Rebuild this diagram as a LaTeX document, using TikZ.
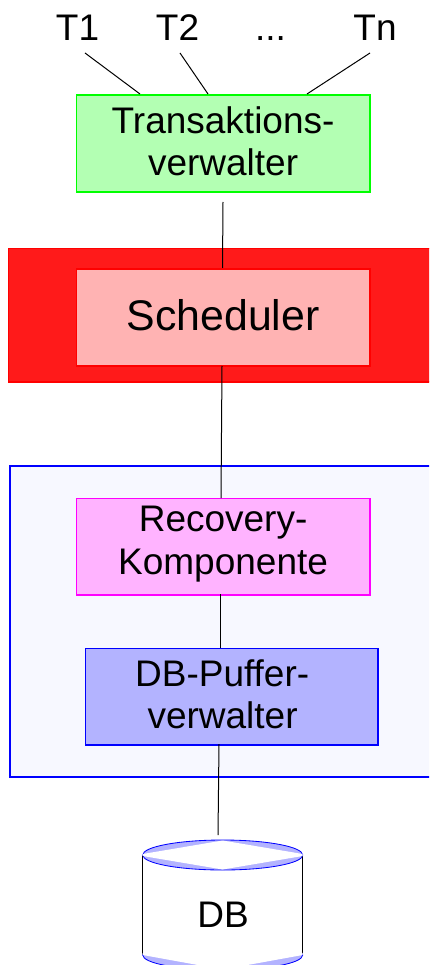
\documentclass[tikz,border=0pt]{standalone}
\usepackage{fontspec}
\setmainfont{Liberation Sans}
\definecolor{redback}{RGB}{255,26,26}
\definecolor{blueback}{RGB}{247,248,255}
\definecolor{lav}{RGB}{179,179,255}
\definecolor{greenfill}{RGB}{179,255,179}
\definecolor{pinkfill}{RGB}{255,179,179}
\definecolor{magfill}{RGB}{255,179,255}
\definecolor{magline}{RGB}{255,0,255}
\newcommand\liftline[1]{\raisebox{1.3pt}[\height][\depth]{#1}}
\tikzset{
  boxbase/.style={draw,line width=1.1pt,anchor=north west,inner sep=0pt,align=center,minimum width=176pt,minimum height=57.8pt,font=\fontsize{22.2}{25.6}\selectfont},
  greenbox/.style={boxbase,draw=green,fill=greenfill},
  pinkbox/.style={boxbase,draw=red,fill=pinkfill},
  magbox/.style={boxbase,draw=magline,fill=magfill},
  bluebox/.style={boxbase,draw=blue,fill=lav,minimum width=175.6pt},
  label/.style={inner sep=0pt,anchor=base,font=\fontsize{22.2}{26}\selectfont},
  conn/.style={draw=black,line width=0.6pt},
}
\begin{document}
\begin{tikzpicture}[x=0.6pt,y=-0.6pt]
\useasboundingbox (0,0) rectangle (429,965);
\clip (0,0) rectangle (429,965);
% background groups
\draw[draw=red,fill=redback,line width=1.1pt] (8.5,248.5) rectangle (440,382);
\draw[draw=blue,fill=blueback,line width=1.1pt] (10,465.8) rectangle (440,777);
% labels
\node[label] (t1) at (77.5,41) {T1};
\node[label] (t2) at (177.5,41) {T2};
\node[label] (dots) at (270.5,41) {...};
\node[label] (tn) at (375,41) {Tn};
% boxes
\node[greenbox] (tv) at (75.5,94.5) {\liftline{Transaktions-}\\\liftline{verwalter}};
\node[pinkbox,font=\fontsize{25.7}{30}\selectfont] (sch) at (75.5,268.5) {\liftline{Scheduler}};
\node[magbox] (rec) at (75.5,497.5) {\liftline{Recovery-}\\\liftline{Komponente}};
\node[bluebox] (buf) at (84.5,647.5) {\hspace*{-11.5pt}\liftline{DB-Puffer-}\\\hspace*{-11pt}\liftline{verwalter}};
% cylinder
\fill[white] (142.7,855) rectangle (302.7,970);
\draw[black,line width=0.6pt] (142.7,855) -- (142.7,955);
\draw[black,line width=0.6pt] (302.7,855) -- (302.7,955);
\draw[draw=blue,fill=lav,line width=0.5pt] (222.7,855) ellipse [x radius=80,y radius=15];
\fill[white] (142.7,854) -- (222.7,840.5) -- (302.7,854) -- (302.7,856) -- (222.7,869.5) -- (142.7,856) -- cycle;
\draw[draw=blue,fill=lav,line width=0.5pt] (222.7,955) ellipse [x radius=80,y radius=15];
\fill[white] (142.7,953) -- (222.7,940) -- (302.7,953) -- (302.7,955) -- (222.7,969.5) -- (142.7,955) -- cycle;
\fill[white] (143,938) rectangle (302.4,955);
\node[label] (db) at (223,927) {DB};
% free ends
\coordinate (a1) at (85,53);
\coordinate (a2) at (180,53);
\coordinate (an) at (370,53);
\coordinate (b1) at (140,94);
\coordinate (b2) at (208,94);
\coordinate (bn) at (307,94);
\coordinate (c1) at (223,202);
\coordinate (c2) at (222.5,268);
\coordinate (d1) at (222,366);
\coordinate (d2) at (221,498);
\coordinate (e1) at (220,594);
\coordinate (e2) at (220,648);
\coordinate (f1) at (219,744);
\coordinate (f2) at (218,835);
\path[conn] (a1) -- (b1);
\path[conn] (a2) -- (b2);
\path[conn] (an) -- (bn);
\path[conn] (c1) -- (c2);
\path[conn] (d1) -- (d2);
\path[conn] (e1) -- (e2);
\path[conn] (f1) -- (f2);
\end{tikzpicture}
\end{document}
